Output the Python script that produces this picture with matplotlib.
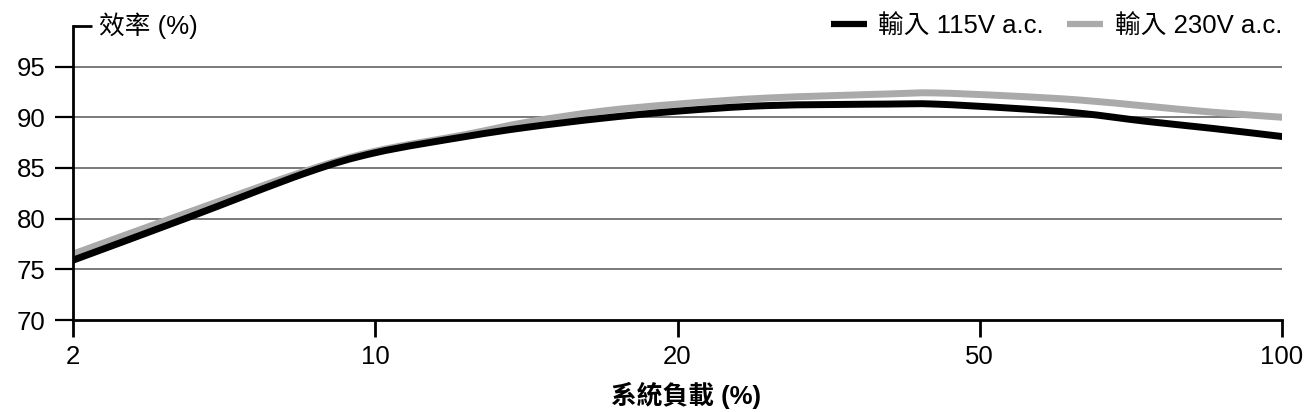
import matplotlib
matplotlib.use("Agg")
import matplotlib.pyplot as plt
from matplotlib.path import Path
from matplotlib.patches import PathPatch
from matplotlib.lines import Line2D

plt.rcParams['font.family'] = ['Liberation Sans', 'Noto Sans CJK TC', 'DejaVu Sans']

# Data (x positions on the evenly spaced load axis; tick index units)
load_ticks = [0, 1, 2, 3, 4]
load_labels = ['2', '10', '20', '50', '100']
pos = [0, 0.38, 0.77, 1.0, 1.3, 1.5, 1.75, 2.0, 2.3, 2.7, 2.85, 3.1, 3.33, 3.55, 3.77, 4.0]
eff_115 = [75.9, 80.1, 84.5, 86.5, 88.1, 89.0, 89.9, 90.6, 91.15, 91.3, 91.3, 90.9, 90.4, 89.6, 88.9, 88.1]
eff_230 = [76.5, 80.6, 84.7, 86.65, 88.3, 89.5, 90.6, 91.3, 91.9, 92.3, 92.4, 92.1, 91.7, 91.1, 90.5, 90.0]
y_ticks = [70, 75, 80, 85, 90, 95]
series_labels = ['輸入 115V a.c.', '輸入 230V a.c.']
y_title = '效率 (%)'
x_title = '系統負載 (%)'

FS = 18.5


def smooth_path(xs, ys):
    """Catmull-Rom curve through the given points, drawn as cubic Bezier segments."""
    pts = list(zip(xs, ys))
    n = len(pts)
    verts = [pts[0]]
    codes = [Path.MOVETO]
    for i in range(n - 1):
        p0 = pts[i - 1] if i > 0 else pts[i]
        p1 = pts[i]
        p2 = pts[i + 1]
        p3 = pts[i + 2] if i + 2 < n else pts[i + 1]
        c1 = (p1[0] + (p2[0] - p0[0]) / 6, p1[1] + (p2[1] - p0[1]) / 6)
        c2 = (p2[0] - (p3[0] - p1[0]) / 6, p2[1] - (p3[1] - p1[1]) / 6)
        verts += [c1, c2, p2]
        codes += [Path.CURVE4] * 3
    return Path(verts, codes)


W, H = 1306, 412
fig = plt.figure(figsize=(W / 100, H / 100), dpi=100)
left, right, bottom, top = 73, 1282, 320, 26
ax = fig.add_axes([left / W, 1 - bottom / H, (right - left) / W, (bottom - top) / H])

ax.set_xlim(0, 4)
ax.set_ylim(70, 99.0)

for yv in y_ticks[1:]:
    ax.axhline(yv, color='#555555', lw=1.1, zorder=1)

styles = [dict(color='black', z=3), dict(color='#aaaaaa', z=2)]
handles = []
for ys, st, lab in zip([eff_115, eff_230], styles, series_labels):
    patch = PathPatch(smooth_path(pos, ys), facecolor='none', edgecolor=st['color'],
                      lw=5.0, capstyle='round', joinstyle='round', zorder=st['z'])
    ax.add_patch(patch)
    handles.append(Line2D([], [], color=st['color'], lw=4.5, solid_capstyle='butt', label=lab))

for s in ['top', 'right']:
    ax.spines[s].set_visible(False)
for s in ['left', 'bottom']:
    ax.spines[s].set_linewidth(2.0)
    ax.spines[s].set_color('black')

ax.set_xticks(load_ticks)
ax.set_xticklabels(load_labels)
ax.set_yticks(y_ticks)
ax.tick_params(axis='y', direction='out', length=13, width=1.6, pad=7, labelsize=FS)
ax.tick_params(axis='x', direction='out', length=12, width=2.0, pad=6, labelsize=FS)

# top connector and y title
ax.plot([0, 19 / (right - left)], [1, 1], transform=ax.transAxes, color='black', lw=2.0,
        clip_on=False, solid_capstyle='butt')
ax.text(26 / (right - left), 1, y_title, transform=ax.transAxes, va='center', ha='left', fontsize=FS)

fig.text(686 / W, 1 - 395 / H, x_title, ha='center', va='center', fontsize=FS, fontweight='bold')

leg = ax.legend(handles=handles, ncol=2, frameon=False, loc='center right',
                bbox_to_anchor=(1.0, 1.0), borderaxespad=0, borderpad=0,
                handlelength=1.4, handletextpad=0.45, columnspacing=0.9, fontsize=FS)

fig.savefig('out.png', dpi=100)
